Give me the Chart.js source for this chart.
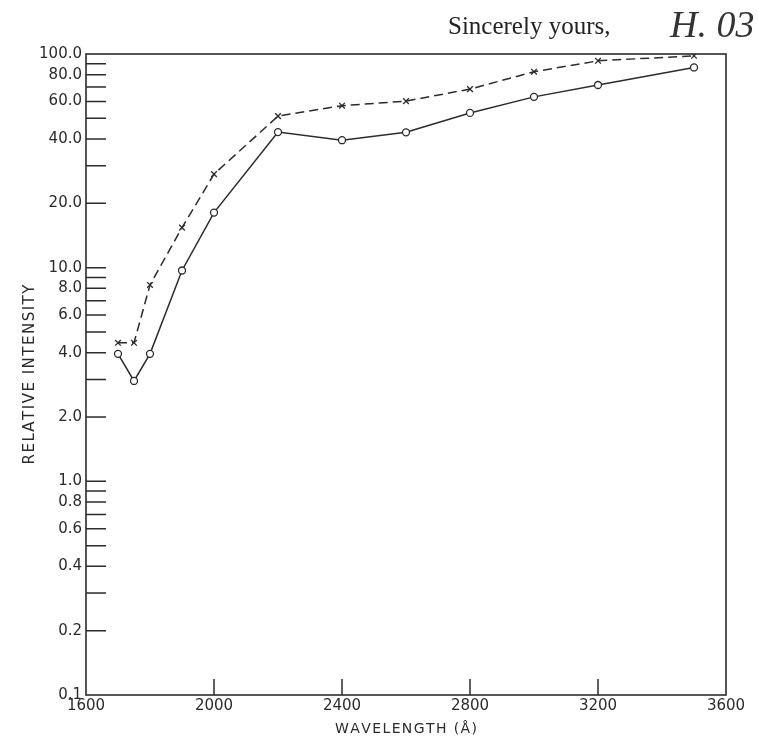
<!DOCTYPE html>
<html>
<head>
<meta charset="utf-8">
<script src="https://cdn.jsdelivr.net/npm/chart.js@4/dist/chart.umd.min.js"></script>
<style>
  body { margin: 0; background: #fff; }
  #wrap { position: relative; width: 758px; height: 740px; }
  #note { position: absolute; left: 448px; top: 12px; font: 25px "Liberation Serif", serif; color: #222; }
  #sign { position: absolute; left: 670px; top: 2px; font: italic 38px "Liberation Serif", serif; color: #333; }
</style>
</head>
<body>
<div id="wrap">
  <canvas id="chart" width="758" height="740"></canvas>
  <div id="note">Sincerely yours,</div>
  <div id="sign">H. 03</div>
</div>
<script>
var wavelengths = [1700, 1750, 1800, 1900, 2000, 2200, 2400, 2600, 2800, 3000, 3200, 3500]
var circleVals = [3.95, 2.95, 3.95, 9.7, 18.1, 43.1, 39.5, 43.0, 53.0, 63.0, 71.6, 86.5]
var crossVals = [4.45, 4.45, 8.3, 15.4, 27.4, 51.2, 57.3, 60.2, 68.5, 82.6, 92.9, 98.1]

var yTicks = [0.1, 0.2, 0.3, 0.4, 0.5, 0.6, 0.7, 0.8, 0.9, 1, 2, 3, 4, 5, 6, 7, 8, 9, 10, 20, 30, 40, 50, 60, 70, 80, 90, 100]
var yLabeled = [0.1, 0.2, 0.4, 0.6, 0.8, 1, 2, 4, 6, 8, 10, 20, 40, 60, 80, 100]
var xTicks = [1600, 2000, 2400, 2800, 3200, 3600]

var ink = "#2b2b2b"
var labelFont = { family: "DejaVu Sans", size: 15 }

function pts(vals) {
  return wavelengths.map(function (w, i) { return { x: w, y: vals[i] } })
}

// spread the letters a little, like the hand lettering
function spaced(s) { return s.split("").join("\u200A") }

// box round the plot, and the short tick marks drawn inward
var frame = {
  id: "frame",
  afterDraw: function (chart) {
    var ctx = chart.ctx
    var a = chart.chartArea
    var xs = chart.scales.x, ys = chart.scales.y
    ctx.save()
    ctx.strokeStyle = ink
    ctx.lineWidth = 1.6
    ctx.strokeRect(a.left, a.top, a.right - a.left, a.bottom - a.top)
    ctx.lineWidth = 1.5
    ctx.beginPath()
    yTicks.forEach(function (v) {
      if (v == 0.1 || v == 100) return
      var y = ys.getPixelForValue(v)
      ctx.moveTo(a.left, y)
      ctx.lineTo(a.left + 20, y)
    })
    xTicks.forEach(function (v) {
      if (v == 1600 || v == 3600) return
      var x = xs.getPixelForValue(v)
      ctx.moveTo(x, a.bottom)
      ctx.lineTo(x, a.bottom - 16)
    })
    ctx.stroke()
    ctx.restore()
  }
}

new Chart(document.getElementById("chart"), {
  type: "line",
  data: {
    datasets: [{
      data: pts(crossVals),
      borderColor: ink,
      borderWidth: 1.5,
      borderDash: [9, 5],
      pointStyle: "crossRot",
      pointRadius: 4,
      pointBorderColor: ink,
      pointBorderWidth: 1.3,
      fill: false
    },
    {
      data: pts(circleVals),
      borderColor: ink,
      borderWidth: 1.5,
      pointStyle: "circle",
      pointRadius: 3.5,
      pointBackgroundColor: "#fff",
      pointBorderColor: ink,
      pointBorderWidth: 1.3,
      fill: false
    }]
  },
  options: {
    responsive: false,
    animation: false,
    layout: { padding: { top: 54, right: 32, left: 0, bottom: 0 } },
    plugins: { legend: { display: false }, tooltip: { enabled: false } },
    scales: {
      x: {
        type: "linear",
        min: 1600,
        max: 3600,
        grid: { display: false, drawTicks: false },
        border: { display: false },
        afterBuildTicks: function (s) { s.ticks = xTicks.map(function (v) { return { value: v } }) },
        afterFit: function (s) { s.height = 45 },
        ticks: { color: ink, font: labelFont, padding: 2, maxRotation: 0, autoSkip: false,
          callback: function (v) { return String(v) } },
        title: { display: true, text: spaced("WAVELENGTH (Å)"), color: ink, font: { family: "DejaVu Sans", size: 14 }, padding: { top: 0, bottom: 2 } }
      },
      y: {
        type: "logarithmic",
        min: 0.1,
        max: 100,
        grid: { display: false, drawTicks: false },
        border: { display: false },
        afterBuildTicks: function (s) { s.ticks = yTicks.map(function (v) { return { value: v } }) },
        afterFit: function (s) { s.width = 86 },
        ticks: { color: ink, font: labelFont, padding: 4, autoSkip: false,
          callback: function (v) { return yLabeled.indexOf(v) >= 0 ? v.toFixed(1) : "" } },
        title: { display: true, text: spaced("RELATIVE INTENSITY"), color: ink, font: { family: "DejaVu Sans", size: 15 }, padding: { top: 21, bottom: 0 } }
      }
    }
  },
  plugins: [frame]
})
</script>
</body>
</html>
